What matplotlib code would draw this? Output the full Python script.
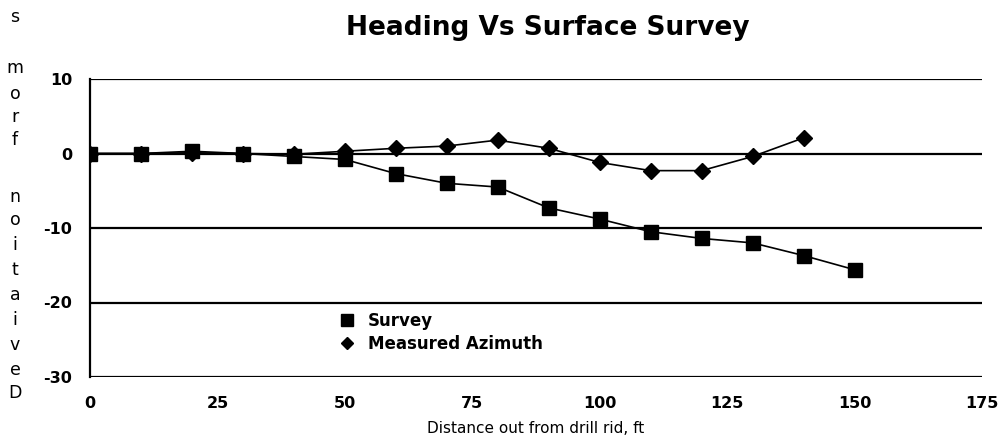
import matplotlib
matplotlib.use("Agg")
import matplotlib.pyplot as plt
from matplotlib.lines import Line2D

# distance out from drill rig, ft
survey_x = [0, 10, 20, 30, 40, 50, 60, 70, 80, 90, 100, 110, 120, 130, 140, 150]
survey_y = [0, 0, 0.3, 0, -0.4, -0.8, -2.7, -4.0, -4.5, -7.3, -8.8, -10.5, -11.4, -12.0, -13.7, -15.6]

azimuth_x = [0, 10, 20, 30, 40, 50, 60, 70, 80, 90, 100, 110, 120, 130, 140]
azimuth_y = [0, 0, 0.1, 0, -0.1, 0.3, 0.7, 1.0, 1.8, 0.7, -1.2, -2.3, -2.3, -0.4, 2.1]

x_ticks = [0, 25, 50, 75, 100, 125, 150, 175]
y_ticks = [10, 0, -10, -20, -30]

y_label = "Deviation from s"
y_letter_pos = [393, 370, 345, 320, 295, 270, 245, 220, 197, None, 140, 117, 94, 68, None, 17]

W, H = 1008, 441


def main():
  fig = plt.figure(figsize=(W / 100, H / 100), dpi=100)
  ax = fig.add_axes([90 / W, 1 - 377 / H, (982 - 90) / W, (377 - 79) / H])

  # horizontal grid lines drawn as full black rules
  for yv in y_ticks:
    ax.axhline(yv, color='black', lw=1.6, zorder=1)

  ax.plot(azimuth_x, azimuth_y, color='black', lw=1.2, marker='D', ms=8,
          mfc='black', mec='black', zorder=3)
  ax.plot(survey_x, survey_y, color='black', lw=1.2, marker='s', ms=9.5,
          mfc='black', mec='black', zorder=4)

  ax.set_xlim(0, 175)
  ax.set_ylim(-30, 10)
  ax.set_xticks(x_ticks)
  ax.set_yticks(y_ticks)
  ax.set_xticklabels([str(v) for v in x_ticks], fontsize=11.5, fontweight='bold')
  ax.set_yticklabels([str(v) for v in y_ticks], fontsize=11.5, fontweight='bold')
  ax.tick_params(length=0, pad=13)
  ax.tick_params(axis='x', pad=14)

  for side in ['top', 'right', 'bottom']:
    ax.spines[side].set_visible(False)
  ax.spines['left'].set_linewidth(1.6)
  ax.spines['left'].set_zorder(5)

  ax.set_xlabel("Distance out from drill rid, ft", fontsize=11, labelpad=7)

  fig.text(548 / W, 1 - 28 / H, "Heading Vs Surface Survey", fontsize=19,
           fontweight='bold', ha='center', va='center')

  # stacked y label, read bottom to top
  for ch, yp in zip(y_label, y_letter_pos):
    if yp is None:
      continue
    fig.text(15 / W, 1 - yp / H, ch, fontsize=12.5, ha='center', va='center')

  handles = [
    Line2D([], [], ls='none', marker='s', ms=8, color='black'),
    Line2D([], [], ls='none', marker='D', ms=6, color='black'),
  ]
  ax.legend(handles, ["Survey", "Measured Azimuth"], loc='upper left',
            bbox_to_anchor=(339 / W, 1 - 312 / H), bbox_transform=fig.transFigure,
            frameon=False, handlelength=1.0, handletextpad=0.75,
            labelspacing=0.3, borderpad=0, borderaxespad=0,
            prop={'size': 12, 'weight': 'bold'})

  fig.savefig("out.png", dpi=100)


if __name__ == "__main__":
  main()
